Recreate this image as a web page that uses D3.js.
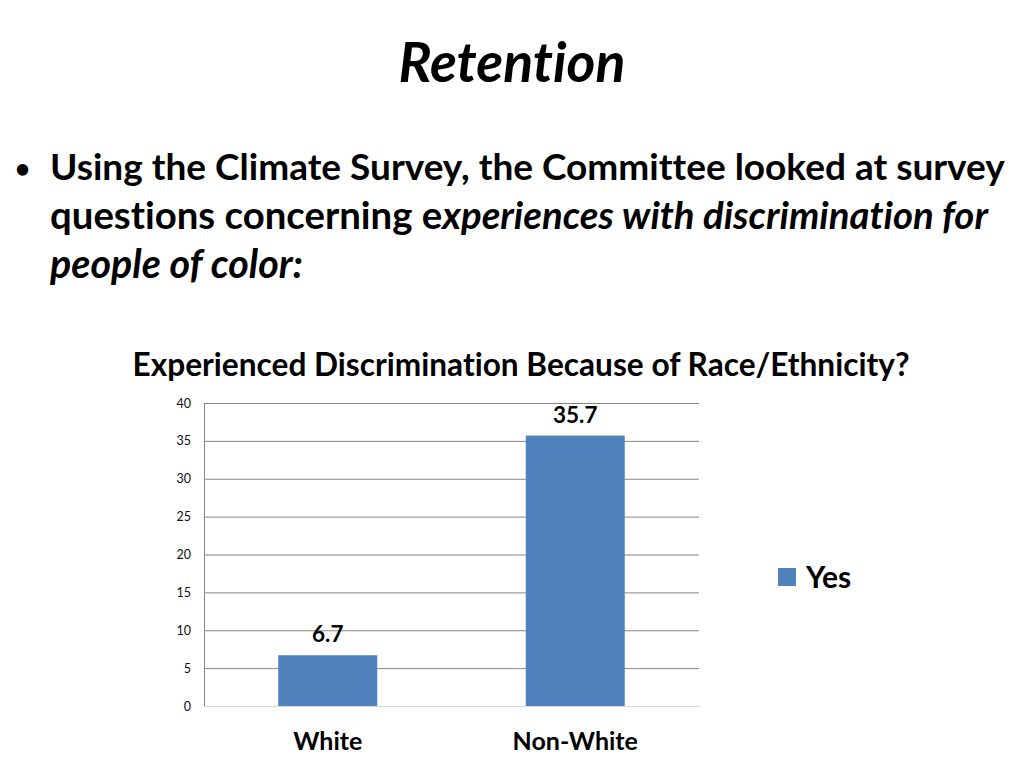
<!DOCTYPE html>
<html>
<head>
<meta charset="utf-8">
<script src="https://cdn.jsdelivr.net/npm/d3@7"></script>
<style>
  body { margin: 0; background: #fff; }
  svg { display: block; font-family: Lato, "Open Sans", sans-serif; font-variant-ligatures: none; }
</style>
</head>
<body>
<svg id="slide" width="1024" height="768"></svg>
<script>
// chart values
let categories = ["White", "Non-White"];
let yesValues = [6.7, 35.7];
let yTicks = [0, 5, 10, 15, 20, 25, 30, 35, 40];
let seriesName = "Yes";

let svg = d3.select("#slide");

// shrink/grow a text element so that it spans a given width
function fitWidth(sel, target) {
    let size = parseFloat(sel.attr("font-size"));
    let w = sel.node().getComputedTextLength();
    sel.attr("font-size", size * target / w);
}

let title = svg.append("text")
    .attr("x", 512).attr("y", 82)
    .attr("text-anchor", "middle")
    .attr("font-size", 44).attr("font-weight", "bold").attr("font-style", "italic")
    .text("Retention");
fitWidth(title, 227);

svg.append("text")
    .attr("x", 15).attr("y", 178)
    .attr("font-size", 26).attr("font-weight", "bold")
    .text("•");

let line1 = svg.append("text")
    .attr("x", 50).attr("y", 180)
    .attr("font-size", 32).attr("font-weight", "bold")
    .text("Using the Climate Survey, the Committee looked at survey");
fitWidth(line1, 955);
let bodySize = line1.attr("font-size");

let line2 = svg.append("text")
    .attr("x", 50).attr("y", 229)
    .attr("font-size", bodySize).attr("font-weight", "bold");
line2.append("tspan").text("questions concerning e");
line2.append("tspan").attr("font-style", "italic").text("xperiences with discrimination for");
fitWidth(line2, 938);

let line3 = svg.append("text")
    .attr("x", 50).attr("y", 278)
    .attr("font-size", bodySize).attr("font-weight", "bold").attr("font-style", "italic")
    .text("people of color:");
fitWidth(line3, 253);

let chartTitle = svg.append("text")
    .attr("x", 521).attr("y", 376)
    .attr("text-anchor", "middle")
    .attr("font-size", 27).attr("font-weight", "bold")
    .text("Experienced Discrimination Because of Race/Ethnicity?");
fitWidth(chartTitle, 777);

// plot area
let x = d3.scaleBand()
    .domain(categories)
    .range([204, 699])
    .paddingInner(0.6)
    .paddingOuter(0.3);
let xOuter = d3.scaleBand().domain(categories).range([204, 699]);
let y = d3.scaleLinear().domain([0, 40]).range([706, 403]);

let yAxis = svg.append("g")
    .attr("transform", "translate(204,0)")
    .call(d3.axisLeft(y).tickValues(yTicks).tickSize(-495).tickPadding(13));
yAxis.select(".domain").attr("stroke", "#868686");
yAxis.selectAll(".tick line").attr("stroke", "#868686");
yAxis.selectAll(".tick text")
    .attr("font-size", 12.5).attr("fill", "#111")
    .attr("font-family", "Lato, sans-serif");
yAxis.selectAll(".tick").filter(d => d === 0).select("line").attr("stroke", "#d9d9d9");

let xAxis = svg.append("g")
    .attr("transform", "translate(0,706)")
    .call(d3.axisBottom(xOuter).tickSize(0).tickPadding(26));
xAxis.select(".domain").attr("stroke", "#d9d9d9");
xAxis.selectAll(".tick text")
    .attr("font-size", 25).attr("font-weight", "bold").attr("fill", "#000")
    .attr("font-family", "Lato, sans-serif");

svg.selectAll(".bar")
    .data(yesValues)
    .enter()
    .append("rect")
    .attr("class", "bar")
    .attr("x", (d, i) => x(categories[i]))
    .attr("y", d => y(d))
    .attr("width", x.bandwidth())
    .attr("height", d => y(0) - y(d))
    .attr("fill", "#4f81bd");

svg.selectAll(".barLabel")
    .data(yesValues)
    .enter()
    .append("text")
    .attr("class", "barLabel")
    .attr("x", (d, i) => x(categories[i]) + x.bandwidth() / 2)
    .attr("y", d => y(d) - 13)
    .attr("text-anchor", "middle")
    .attr("font-size", 22.5).attr("font-weight", "bold")
    .text(d => d.toFixed(1));

// legend
let legend = svg.append("g").attr("transform", "translate(778,568)");
legend.append("rect").attr("width", 18).attr("height", 18).attr("fill", "#4f81bd");
legend.append("text")
    .attr("x", 28).attr("y", 20)
    .attr("font-size", 30).attr("font-weight", "bold")
    .text(seriesName);
</script>
</body>
</html>
